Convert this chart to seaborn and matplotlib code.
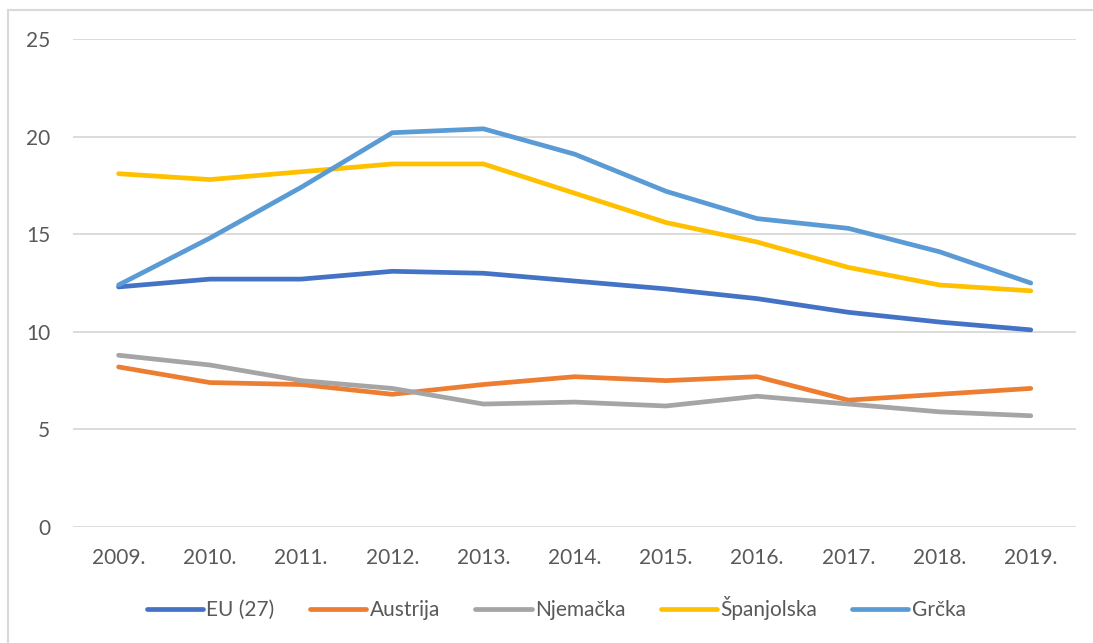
import matplotlib
matplotlib.use('Agg')
import matplotlib.pyplot as plt
import seaborn as sns
import pandas as pd
from matplotlib.lines import Line2D

# Years and series values (%)
years = ['2009.', '2010.', '2011.', '2012.', '2013.', '2014.', '2015.', '2016.', '2017.', '2018.', '2019.']
eu27 = [12.3, 12.7, 12.7, 13.1, 13.0, 12.6, 12.2, 11.7, 11.0, 10.5, 10.1]
austrija = [8.2, 7.4, 7.3, 6.8, 7.3, 7.7, 7.5, 7.7, 6.5, 6.8, 7.1]
njemacka = [8.8, 8.3, 7.5, 7.1, 6.3, 6.4, 6.2, 6.7, 6.3, 5.9, 5.7]
spanjolska = [18.1, 17.8, 18.2, 18.6, 18.6, 17.1, 15.6, 14.6, 13.3, 12.4, 12.1]
grcka = [12.4, 14.8, 17.4, 20.2, 20.4, 19.1, 17.2, 15.8, 15.3, 14.1, 12.5]

series_names = ['EU (27)', 'Austrija', 'Njemačka', 'Španjolska', 'Grčka']
series_values = [eu27, austrija, njemacka, spanjolska, grcka]
colors = ['#4472C4', '#ED7D31', '#A5A5A5', '#FFC000', '#5B9BD5']

rows = []
for name, vals in zip(series_names, series_values):
    for i, (yr, v) in enumerate(zip(years, vals)):
        rows.append({'pos': i, 'Godina': yr, 'Serija': name, 'Vrijednost': v})
df = pd.DataFrame(rows)

sns.set_style('white')
plt.rcParams['font.family'] = ['Lato', 'DejaVu Sans']

fig = plt.figure(figsize=(10.93, 6.43), dpi=100)
ax = fig.add_axes([0.0668, 0.1804, 0.918, 0.7589])

sns.lineplot(data=df, x='pos', y='Vrijednost', hue='Serija', hue_order=series_names,
             palette=colors, linewidth=3.4, ax=ax, legend=False, sort=False)

ax.set_xlim(-0.5, len(years) - 0.5)
ax.set_ylim(0, 25)
ax.set_yticks([0, 5, 10, 15, 20, 25])
ax.set_xticks(range(len(years)))
ax.set_xticklabels(years)
ax.set_xlabel('')
ax.set_ylabel('')
ax.yaxis.grid(True, color='#d9d9d9', linewidth=1.3)
ax.set_axisbelow(True)
for s in ax.spines.values():
    s.set_visible(False)
ax.tick_params(axis='both', length=0, labelsize=15, labelcolor='#595959')
ax.tick_params(axis='x', pad=15)
ax.tick_params(axis='y', pad=16.5)

handles = [Line2D([0], [0], color=c, linewidth=3.4, solid_capstyle='round') for c in colors]
fig.legend(handles, series_names, loc='center', bbox_to_anchor=(0.509, 1 - 608 / 643), ncol=5,
           frameon=False, fontsize=15, labelcolor='#595959', handlelength=2.7,
           handletextpad=0.15, columnspacing=1.7)

# chart frame (only top and left edges fall inside the picture)
fig.add_artist(Line2D([8 / 1093, 1], [1 - 10 / 643, 1 - 10 / 643], transform=fig.transFigure,
                      color='#d9d9d9', linewidth=1.5))
fig.add_artist(Line2D([8 / 1093, 8 / 1093], [0, 1 - 10 / 643], transform=fig.transFigure,
                      color='#d9d9d9', linewidth=1.5))

fig.savefig('out.png', dpi=100)
